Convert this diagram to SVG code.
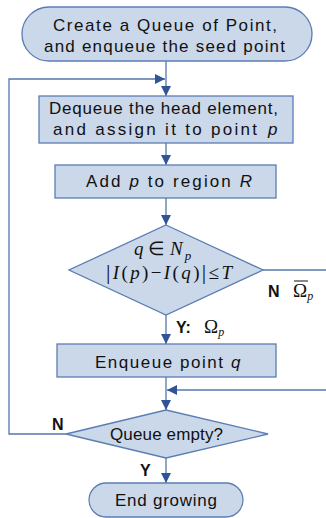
<svg xmlns="http://www.w3.org/2000/svg" width="326" height="518" viewBox="0 0 326 518">
  <style>
    .shape { fill: #cad8ea; stroke: #5b7db3; stroke-width: 1.3; }
    .line { fill: none; stroke: #5677ad; stroke-width: 1.3; }
    .txt { font-family: "Liberation Sans", Arial, sans-serif; font-size: 17px; fill: #111; }
    .it { font-style: italic; }
    .math { font-family: "Liberation Serif", "Times New Roman", serif; font-size: 19px; fill: #111; }
    .lbl { font-family: "Liberation Sans", Arial, sans-serif; font-size: 16px; font-weight: bold; fill: #111; }
  </style>
  <defs>
    <marker id="arrow" viewBox="0 0 10 10" refX="10" refY="5" markerWidth="10" markerHeight="10" markerUnits="userSpaceOnUse" orient="auto">
      <path d="M0,0 L10,5 L0,10 Z" fill="#2f5597"/>
    </marker>
  </defs>

  <!-- connectors -->
  <g id="connectors">
    <path class="line" d="M166,61 V96" marker-end="url(#arrow)"/>
    <path class="line" d="M66,434 H9 V79 H165" marker-end="url(#arrow)"/>
    <path class="line" d="M166,143 V165" marker-end="url(#arrow)"/>
    <path class="line" d="M166,198 V225" marker-end="url(#arrow)"/>
    <path class="line" d="M166,315 V344" marker-end="url(#arrow)"/>
    <path class="line" d="M263,270 H326"/>
    <path class="line" d="M166,377 V410" marker-end="url(#arrow)"/>
    <path class="line" d="M326,390 H167" marker-end="url(#arrow)"/>
    <path class="line" d="M166,458 V483" marker-end="url(#arrow)"/>
  </g>

  <!-- start -->
  <g id="start">
    <rect class="shape" x="22" y="7" width="290" height="54" rx="27" ry="27"/>
    <text class="txt" x="53" y="31" textLength="224" lengthAdjust="spacing">Create a Queue of Point,</text>
    <text class="txt" x="44" y="52" textLength="241" lengthAdjust="spacing">and enqueue the seed point</text>
  </g>

  <!-- dequeue -->
  <g id="dequeue">
    <rect class="shape" x="39" y="96" width="254" height="47"/>
    <text class="txt" x="49" y="114" textLength="229" lengthAdjust="spacing">Dequeue the head element,</text>
    <text class="txt" x="53" y="135" textLength="204" lengthAdjust="spacing">and assign it to point</text>
    <text class="txt it" x="268" y="135">p</text>
  </g>

  <!-- add to region -->
  <g id="add-region">
    <rect class="shape" x="55" y="165" width="221" height="33"/>
    <text class="txt" x="86" y="187" textLength="166" lengthAdjust="spacing">Add <tspan class="it">p</tspan> to region <tspan class="it">R</tspan></text>
  </g>

  <!-- neighbour test -->
  <g id="check-neighbour">
    <polygon class="shape" points="166,225 263,270 166,315 69,270"/>
    <text class="math" x="134" y="255"><tspan font-style="italic">q</tspan> ∈ <tspan font-style="italic">N</tspan><tspan font-style="italic" font-size="13" dx="2" dy="5">p</tspan></text>
    <text class="math" x="106" y="279" textLength="126" lengthAdjust="spacing"><tspan font-size="22">|</tspan><tspan font-style="italic">I</tspan>(<tspan font-style="italic">p</tspan>)−<tspan font-style="italic">I</tspan>(<tspan font-style="italic">q</tspan>)<tspan font-size="22">|</tspan>≤<tspan font-style="italic">T</tspan></text>
  </g>

  <!-- enqueue -->
  <g id="enqueue">
    <rect class="shape" x="57" y="344" width="219" height="33"/>
    <text class="txt" x="95" y="368" textLength="128" lengthAdjust="spacing">Enqueue point</text>
    <text class="txt it" x="231" y="368">q</text>
  </g>

  <!-- empty test -->
  <g id="check-empty">
    <polygon class="shape" points="166,410 268,434 166,458 66,434"/>
    <text class="txt" x="110" y="440" textLength="113" lengthAdjust="spacing">Queue empty?</text>
  </g>

  <!-- end -->
  <g id="end">
    <rect class="shape" x="89" y="483" width="154" height="34" rx="17" ry="17"/>
    <text class="txt" x="115" y="506" textLength="102" lengthAdjust="spacing">End growing</text>
  </g>

  <!-- branch labels -->
  <g id="labels">
    <text class="lbl" x="268" y="297">N</text>
    <text class="math" x="293" y="297">Ω<tspan font-style="italic" font-size="12" dy="3">p</tspan></text>
    <line x1="294" y1="281" x2="308" y2="281" stroke="#111" stroke-width="1"/>
    <text class="lbl" x="176" y="333">Y:</text>
    <text class="math" x="204" y="333">Ω<tspan font-style="italic" font-size="12" dy="3">p</tspan></text>
    <text class="lbl" x="52" y="430">N</text>
    <text class="lbl" x="140" y="476">Y</text>
  </g>
</svg>
